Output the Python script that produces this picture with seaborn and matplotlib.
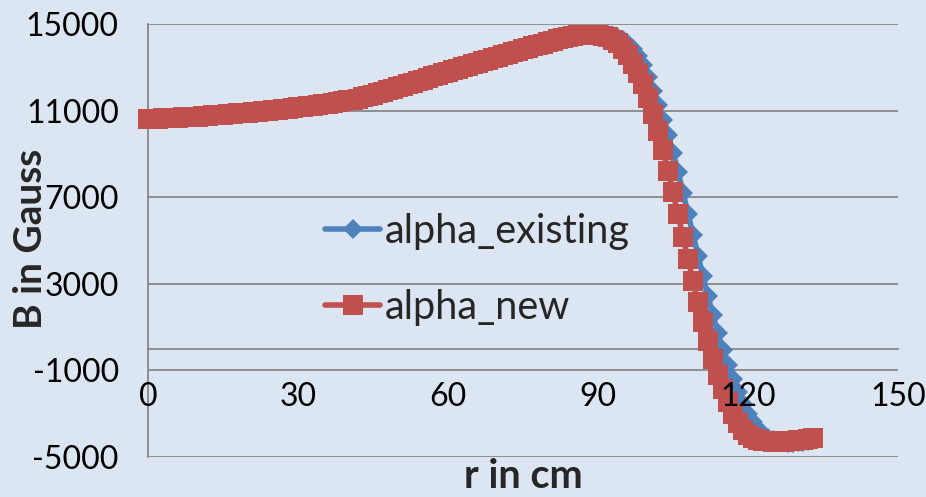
import matplotlib
matplotlib.use("Agg")
import matplotlib.pyplot as plt
import seaborn as sns

# Radial field profile B(r), sampled every centimetre
r_cm = list(range(0, 134))

alpha_existing = [
    10620, 10626, 10633, 10641, 10650, 10660, 10671, 10683, 10696, 10710,
    10725, 10741, 10758, 10775, 10793, 10811, 10830, 10849, 10869, 10889,
    10910, 10931, 10953, 10975, 10998, 11021, 11045, 11069, 11094, 11119,
    11145, 11172, 11200, 11229, 11259, 11290, 11322, 11355, 11390, 11427,
    11467, 11510, 11555, 11610, 11672, 11738, 11806, 11876, 11946, 12016,
    12086, 12156, 12226, 12296, 12366, 12436, 12506, 12576, 12646, 12716,
    12786, 12856, 12926, 12996, 13066, 13136, 13206, 13276, 13346, 13416,
    13486, 13556, 13626, 13696, 13766, 13834, 13901, 13967, 14033, 14098,
    14162, 14225, 14287, 14345, 14395, 14437, 14469, 14491, 14503, 14512,
    14515, 14508, 14485, 14440, 14360, 14240, 14060, 13830, 13500, 13110,
    12530, 11900, 11240, 10560, 9850, 9060, 8180, 7210, 6240, 5270,
    4300, 3340, 2420, 1540, 710, -70, -770, -1420, -2010, -2540,
    -3000, -3400, -3700, -3930, -4100, -4210, -4280, -4320, -4340, -4340,
    -4320, -4290, -4250, -4210,
]

alpha_new = [
    10620, 10626, 10633, 10641, 10650, 10660, 10671, 10683, 10696, 10710,
    10725, 10741, 10758, 10775, 10793, 10811, 10830, 10849, 10869, 10889,
    10910, 10931, 10953, 10975, 10998, 11021, 11045, 11069, 11094, 11119,
    11145, 11172, 11200, 11229, 11259, 11290, 11322, 11355, 11390, 11427,
    11467, 11510, 11555, 11610, 11672, 11738, 11806, 11876, 11946, 12016,
    12086, 12156, 12226, 12296, 12366, 12436, 12506, 12576, 12646, 12716,
    12786, 12856, 12926, 12996, 13066, 13136, 13206, 13276, 13346, 13416,
    13486, 13556, 13626, 13696, 13766, 13834, 13901, 13967, 14033, 14098,
    14162, 14225, 14287, 14345, 14395, 14437, 14469, 14491, 14503, 14510,
    14490, 14450, 14380, 14270, 14100, 13860, 13550, 13170, 12740, 12230,
    11600, 10860, 10050, 9170, 8230, 7230, 6210, 5180, 4150, 3140,
    2150, 1220, 370, -470, -1210, -1870, -2470, -3010, -3440, -3760,
    -3970, -4110, -4200, -4250, -4280, -4295, -4300, -4295, -4280, -4260,
    -4235, -4205, -4170, -4140,
]

series_labels = ["alpha_existing", "alpha_new"]
x_ticks = [0, 30, 60, 90, 120, 150]
y_ticks = [-5000, -1000, 3000, 7000, 11000, 15000]
x_title = "r in cm"
y_title = "B in Gauss"

BG = "#DCE6F2"
GRID = "#878787"
BLUE = "#4F81BD"
RED = "#C0504D"

sns.set_style("white")
plt.rcParams["font.family"] = ["Lato", "DejaVu Sans"]
plt.rcParams["axes.unicode_minus"] = False

W, H = 926, 497
fig = plt.figure(figsize=(W / 100, H / 100), dpi=100)
fig.patch.set_facecolor(BG)
ax = fig.add_axes([148 / W, 1 - 457 / H, 750 / W, 433 / H])
ax.set_facecolor(BG)

sns.lineplot(x=r_cm, y=alpha_existing, ax=ax, color=BLUE, linewidth=4,
             marker="D", markersize=10.2, markeredgewidth=0,
             label=series_labels[0], clip_on=False, zorder=3)
sns.lineplot(x=r_cm, y=alpha_new, ax=ax, color=RED, linewidth=4,
             marker="s", markersize=14.4, markeredgewidth=0,
             label=series_labels[1], clip_on=False, zorder=4)

ax.set_xlim(x_ticks[0], x_ticks[-1])
ax.set_ylim(y_ticks[0], y_ticks[-1])
ax.set_xticks(x_ticks)
ax.set_yticks(y_ticks)
ax.set_xticklabels([str(v) for v in x_ticks])
ax.set_yticklabels([str(v) for v in y_ticks])
ax.set_xlabel("")
ax.set_ylabel("")

# horizontal gridlines only
ax.grid(False)
ax.yaxis.grid(True, color=GRID, linewidth=1.3)
ax.set_axisbelow(True)
ax.xaxis.set_zorder(6)

for side in ("top", "right"):
    ax.spines[side].set_visible(False)
ax.spines["bottom"].set_position(("data", 0))
for side in ("left", "bottom"):
    ax.spines[side].set_color(GRID)
    ax.spines[side].set_linewidth(1.3)
    ax.spines[side].set_zorder(1)

ax.tick_params(axis="y", direction="out", length=8, width=1.3, color=GRID,
               pad=13, labelsize=23, labelcolor="black")
ax.tick_params(axis="x", direction="out", length=8, width=1.3, color=GRID,
               pad=16, labelsize=23, labelcolor="black")

ax.legend(loc="center left", bbox_to_anchor=(325 / W, 1 - 269.5 / H),
          bbox_transform=fig.transFigure, frameon=False, fontsize=28.5,
          handlelength=1.39, handletextpad=0.13, labelspacing=1.0,
          borderpad=0, borderaxespad=0, numpoints=1)

fig.text(523 / W, 1 - 488 / H, x_title, ha="center", va="baseline",
         fontsize=28.5, fontweight="bold")
fig.text(31 / W, 1 - 239 / H, y_title, ha="center", va="center",
         rotation=90, fontsize=28, fontweight="bold")

fig.savefig("out.png", dpi=100, facecolor=BG)
